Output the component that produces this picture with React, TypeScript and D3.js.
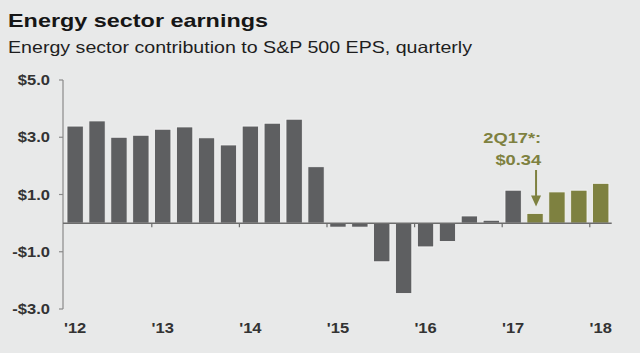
import * as d3 from "d3";

// ---------------------------------------------------------------------------
// Data: energy sector contribution to S&P 500 EPS, quarterly 1Q12 .. 1Q18
// ---------------------------------------------------------------------------

const QUARTERS = [
  "1Q12", "2Q12", "3Q12", "4Q12",
  "1Q13", "2Q13", "3Q13", "4Q13",
  "1Q14", "2Q14", "3Q14", "4Q14",
  "1Q15", "2Q15", "3Q15", "4Q15",
  "1Q16", "2Q16", "3Q16", "4Q16",
  "1Q17", "2Q17", "3Q17", "4Q17",
  "1Q18",
];

const EPS = [
  3.39, 3.57, 3.0, 3.07,
  3.28, 3.36, 2.98, 2.73,
  3.39, 3.49, 3.63, 1.97,
  -0.14, -0.14, -1.35, -2.46,
  -0.83, -0.64, 0.25, 0.1,
  1.15, 0.34, 1.09, 1.15,
  1.39,
];

// quarters drawn in olive (estimates)
const HIGHLIGHT = ["2Q17", "3Q17", "4Q17", "1Q18"];

const Y_TICKS = [5, 3, 1, -1, -3];
const YEAR_LABELS = ["'12", "'13", "'14", "'15", "'16", "'17", "'18"];

const ANNOTATION = { quarter: "2Q17", lines: ["2Q17*:", "$0.34"] };

// ---------------------------------------------------------------------------

const W = 640;
const H = 353;
const BG = "#e8e9e9";
const GRAY = "#5e5f61";
const OLIVE = "#7e8140";
const FONT = "'Liberation Sans', Arial, sans-serif";
const SX = 1.18; // source text is slightly stretched horizontally

const fmtY = (v: number) => (v < 0 ? `-$${Math.abs(v).toFixed(1)}` : `$${v.toFixed(1)}`);

function Txt({
  x, y, children, size, weight = "bold", anchor = "start", fill = "#2b2b2b",
}: {
  x: number; y: number; children: string; size: number;
  weight?: string; anchor?: string; fill?: string;
}) {
  return (
    <text
      transform={`translate(${x},${y}) scale(${SX},1)`}
      fontSize={size}
      fontWeight={weight}
      textAnchor={anchor as any}
      fill={fill}
      fontFamily={FONT}
    >
      {children}
    </text>
  );
}

export default function App() {
  const x = d3
    .scaleBand<string>()
    .domain(QUARTERS)
    .range([64.2, 611.7])
    .paddingInner(0.256)
    .paddingOuter(0.128);

  const y = d3.scaleLinear().domain([-3, 5]).range([309, 80]);

  const step = x.step();
  const bw = x.bandwidth();
  const gapHalf = (step - bw) / 2;
  const axisX = 63;
  const y0 = y(0);

  const yearStarts = QUARTERS.filter((q) => q.startsWith("1Q"));

  const aq = ANNOTATION.quarter;
  const aIdx = QUARTERS.indexOf(aq);
  const aCx = x(aq)! + bw / 2 + 1;
  const aRight = x(aq)! + bw - 2;
  const aTop = y(EPS[aIdx]);

  return (
    <svg
      width={W}
      height={H}
      style={{ position: "absolute", left: 0, top: 0, display: "block" }}
    >
      <rect width={W} height={H} fill={BG} />

      {/* Title and subtitle */}
      <text
        x={8}
        y={27}
        fontSize={19}
        fontWeight="bold"
        fill="#161616"
        fontFamily={FONT}
        textLength={260}
        lengthAdjust="spacingAndGlyphs"
      >
        Energy sector earnings
      </text>
      <text
        x={8}
        y={52.5}
        fontSize={16.5}
        fill="#1e1e1e"
        fontFamily={FONT}
        textLength={464}
        lengthAdjust="spacingAndGlyphs"
      >
        Energy sector contribution to S&amp;P 500 EPS, quarterly
      </text>

      {/* Y axis */}
      <line x1={axisX} x2={axisX} y1={y(5)} y2={y(-3)} stroke="#8a8a8a" strokeWidth={1.2} />
      {Y_TICKS.map((t) => (
        <g key={t}>
          <line x1={axisX - 4} x2={axisX} y1={y(t)} y2={y(t)} stroke="#8a8a8a" strokeWidth={1.2} />
          <Txt x={50} y={y(t) + 5} size={14} anchor="end" fill="#333">
            {fmtY(t)}
          </Txt>
        </g>
      ))}

      {/* Bars */}
      {QUARTERS.map((q, i) => {
        const v = EPS[i];
        return (
          <rect
            key={q}
            x={x(q)}
            y={Math.min(y(v), y0)}
            width={bw}
            height={Math.abs(y(v) - y0)}
            fill={HIGHLIGHT.includes(q) ? OLIVE : GRAY}
            stroke="#f7f7f7"
            strokeWidth={0.8}
          />
        );
      })}

      {/* Zero line with year ticks */}
      <line x1={axisX} x2={x.range()[1]} y1={y0} y2={y0} stroke="#6c6c6c" strokeWidth={1.5} />
      {yearStarts.slice(1).map((q) => (
        <line
          key={q}
          x1={x(q)! - gapHalf}
          x2={x(q)! - gapHalf}
          y1={y0}
          y2={y0 + 4}
          stroke="#6c6c6c"
          strokeWidth={1.2}
        />
      ))}

      {/* Year labels */}
      {yearStarts.map((q, i) => (
        <Txt key={q} x={x(q)! + bw / 2} y={333} size={14} anchor="middle" fill="#333">
          {YEAR_LABELS[i]}
        </Txt>
      ))}

      {/* Annotation */}
      {ANNOTATION.lines.map((l, i) => (
        <Txt key={l} x={aRight} y={143 + i * 22} size={15.5} anchor="end" fill={OLIVE}>
          {l}
        </Txt>
      ))}
      <line x1={aCx} x2={aCx} y1={170} y2={aTop - 14} stroke={OLIVE} strokeWidth={2} />
      <path
        d={`M${aCx - 5},${aTop - 18} L${aCx + 5},${aTop - 18} L${aCx},${aTop - 7} Z`}
        fill={OLIVE}
      />
    </svg>
  );
}
